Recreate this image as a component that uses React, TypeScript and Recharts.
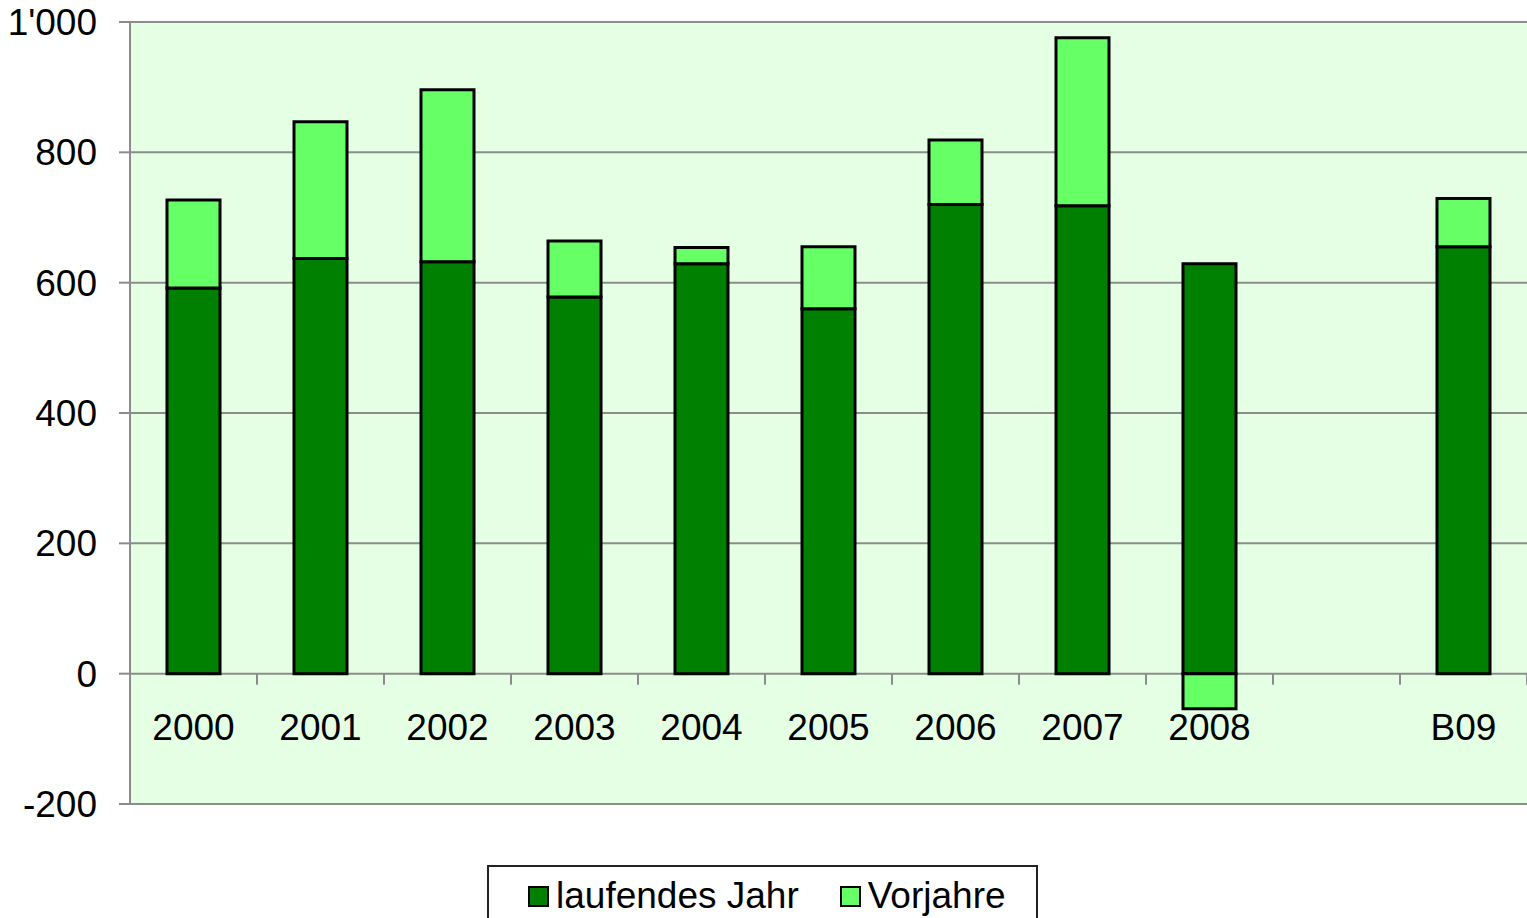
import { BarChart, Bar, XAxis, YAxis, CartesianGrid, Legend } from 'recharts';

const categories = ['2000', '2001', '2002', '2003', '2004', '2005', '2006', '2007', '2008', '', 'B09'];
const laufendesJahr = [592, 637, 632, 578, 629, 560, 720, 718, 629, null, 655];
const vorjahre = [135, 210, 264, 86, 25, 95, 99, 258, -54, null, 74];
const yTicks = [-200, 0, 200, 400, 600, 800, 1000];

const data = categories.map((name, i) => ({
  name,
  lauf: laufendesJahr[i],
  vor: vorjahre[i],
}));

const FONT = '"Liberation Sans", Arial, sans-serif';
const FS = 37;
const W = 1527;
const H = 918;
const PLOT_TOP = 22;
const PLOT_H = 782;
const Y_MIN = -200;
const Y_MAX = 1000;
const ZERO_Y = PLOT_TOP + (PLOT_H * Y_MAX) / (Y_MAX - Y_MIN);
const BAND = (W - 130) / categories.length;

const fmt = (v: number) => {
  if (Math.abs(v) >= 1000) {
    const s = String(v);
    return s.slice(0, s.length - 3) + "'" + s.slice(-3);
  }
  return String(v);
};

const XTick = ({ x = 0, payload }: { x?: number; y?: number; payload?: { value: string } }) => (
  <g>
    <line x1={x + BAND / 2} x2={x + BAND / 2} y1={ZERO_Y} y2={ZERO_Y + 11} stroke="#8c8c8c" strokeWidth={2} />
    <text x={x} y={ZERO_Y + 54} textAnchor="middle" dominantBaseline="central" fontSize={FS} fontFamily={FONT} fill="#000">
      {payload?.value}
    </text>
  </g>
);

const LegendBox = () => (
  <div
    style={{
      boxSizing: 'border-box',
      width: 551,
      height: 70,
      border: '2px solid #222',
      background: '#fff',
      display: 'flex',
      alignItems: 'flex-start',
      paddingTop: 8,
      paddingLeft: 39,
      fontFamily: FONT,
      fontSize: FS,
      color: '#000',
      lineHeight: '42px',
      whiteSpace: 'nowrap',
    }}
  >
    <span style={{ display: 'inline-block', width: 21, height: 21, background: '#008000', border: '2px solid #000', boxSizing: 'border-box', marginTop: 11, marginRight: 7 }} />
    <span>laufendes Jahr</span>
    <span style={{ display: 'inline-block', width: 21, height: 21, background: '#66FF66', border: '2px solid #000', boxSizing: 'border-box', marginTop: 11, marginLeft: 41, marginRight: 7 }} />
    <span>Vorjahre</span>
  </div>
);

export default function App() {
  return (
    <div style={{ position: 'absolute', left: 0, top: 0, width: W, height: H, background: '#fff' }}>
      <BarChart
        width={W}
        height={H}
        data={data}
        stackOffset="sign"
        barSize={53}
        margin={{ top: PLOT_TOP, right: 0, bottom: 0, left: 0 }}
      >
        <CartesianGrid vertical={false} stroke="#8c8c8c" strokeWidth={2} fill="#E5FFE5" fillOpacity={1} />
        <XAxis
          dataKey="name"
          height={H - PLOT_TOP - PLOT_H - 70}
          axisLine={false}
          tickLine={false}
          tick={<XTick />}
          interval={0}
        />
        <YAxis
          width={130}
          domain={[Y_MIN, Y_MAX]}
          ticks={yTicks}
          tickFormatter={fmt}
          axisLine={{ stroke: '#8c8c8c', strokeWidth: 2 }}
          tickLine={{ stroke: '#8c8c8c', strokeWidth: 2 }}
          tickSize={11}
          tickMargin={22}
          tick={{ fontSize: FS, fontFamily: FONT, fill: '#000' }}
        />
        <Bar dataKey="lauf" name="laufendes Jahr" stackId="a" fill="#008000" stroke="#000" strokeWidth={3} isAnimationActive={false} />
        <Bar dataKey="vor" name="Vorjahre" stackId="a" fill="#66FF66" stroke="#000" strokeWidth={3} isAnimationActive={false} />
        <Legend
          verticalAlign="bottom"
          content={<LegendBox />}
          wrapperStyle={{ position: 'absolute', left: 487, top: 865, width: 551, height: 70 }}
        />
      </BarChart>
    </div>
  );
}
